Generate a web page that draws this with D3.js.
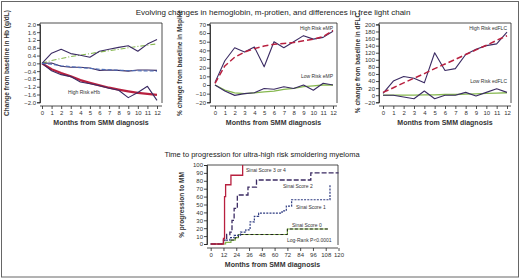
<!DOCTYPE html>
<html>
<head>
<meta charset="utf-8">
<script src="https://cdn.jsdelivr.net/npm/d3@7"></script>
<style>
  body { margin: 0; background: #fff; }
  svg { display: block; font-family: "Liberation Sans", Arial, sans-serif; }
  .narrow { font-family: "Liberation Sans Narrow", "Liberation Sans", Arial, sans-serif; }
</style>
</head>
<body>
<svg id="chart" width="520" height="279"></svg>
<script>
// ---- data ----
const months = [0, 1, 2, 3, 4, 5, 6, 7, 8, 9, 10, 11, 12];

// hemoglobin (g/dL)
const hbRiseObs   = [0, 0.52, 0.72, 0.5, 0.42, 0.31, 0.62, 0.72, 0.82, 0.9, 0.62, 0.99, 1.22];
const hbRiseTrend = [0, 0.15, 0.25, 0.35, 0.42, 0.5, 0.58, 0.65, 0.72, 0.8, 0.87, 0.93, 1.0];
const hbFlatObs   = [0, 0.02, -0.15, -0.2, -0.2, -0.24, -0.36, -0.34, -0.36, -0.4, -0.34, -0.34, -0.36];
const hbFlatTrend = [0, -0.05, -0.12, -0.17, -0.22, -0.26, -0.3, -0.33, -0.35, -0.37, -0.38, -0.39, -0.4];
const hbHighObs   = [0, -0.38, -0.58, -0.68, -0.96, -1.05, -1.15, -1.28, -1.38, -1.76, -1.5, -1.18, -1.9];
const hbHighTrend = [0, -0.3, -0.5, -0.66, -0.86, -1.0, -1.13, -1.25, -1.35, -1.44, -1.52, -1.57, -1.62];

// m-protein (% change)
const mpHighObs   = [3, 28, 43, 38, 44, 21, 50, 43, 50, 57, 53, 55, 62];
const mpHighTrend = [2, 22, 32, 38, 42, 45, 47, 48, 49, 51, 53, 56, 63];
const mpLowObs    = [0, -7, -12, -10, -9, -4, -5, -2, -4, 0, -6, 2, 0];
const mpLowTrend  = [0, -6, -9, -10, -9, -8, -7, -5, -4, -2, -1, 0, 0];

// dFLC (% change)
const flcHighObs   = [5, 40, 53, 48, 35, 120, 70, 75, 115, 130, 140, 145, 178];
const flcHighTrend = [8, 21, 35, 48, 61, 75, 88, 101, 115, 128, 141, 155, 168];
const flcLowObs    = [0, 0, -5, -10, 12, -10, 0, 0, 8, -2, 8, 18, 8];
const flcLowTrend  = [0, 0, 0, 0, 1, 1, 2, 2, 3, 4, 5, 6, 7];

// Kaplan-Meier steps [month, %]
const km34 = [[0,0],[12,0],[12,7],[13,7],[13,60],[14,60],[14,75],[19,75],[19,87],[30,87],[30,100]];
const km2  = [[0,0],[12,0],[12,5],[15,5],[15,12],[18,12],[18,15],[20,15],[20,30],[22,30],[22,45],[25,45],[25,62],[35,62],[35,72],[43,72],[43,81],[94,81],[94,90],[120,90]];
const km1  = [[0,0],[12,0],[12,5],[18,5],[18,8],[22,8],[22,11],[28,11],[28,15],[33,15],[33,18],[37,18],[37,28],[41,28],[41,35],[45,35],[45,39],[67,39],[67,42],[71,42],[71,48],[76,48],[76,56],[112,56],[112,75]];
const km0  = [[0,0],[14,0],[14,2],[19,2],[19,5],[23,5],[23,8],[26,8],[26,12],[72,12],[72,19],[110,19]];

const hbTicks  = [-2.0, -1.6, -1.2, -0.8, -0.4, 0.0, 0.4, 0.8, 1.2, 1.6, 2.0];
const mpTicks  = [-20, -10, 0, 10, 20, 30, 40, 50, 60, 70];
const flcTicks = [-20, 0, 20, 40, 60, 80, 100, 120, 140, 160, 180, 200];
const kmXTicks = [0, 12, 24, 36, 48, 60, 72, 84, 96, 108, 120];
const kmYTicks = [0, 10, 20, 30, 40, 50, 60, 70, 80, 90, 100];

const navy = "#3b2b63", red = "#b8203f", green = "#86b84f", blue = "#4f6fb8";

const svg = d3.select("#chart");

svg.append("rect").attr("x", 1.5).attr("y", 1.5).attr("width", 517).attr("height", 275.5)
  .attr("fill", "none").attr("stroke", "#666").attr("stroke-width", 1);

svg.append("text").attr("x", 273).attr("y", 15).attr("text-anchor", "middle")
  .attr("font-size", 8).attr("fill", "#222")
  .text("Evolving changes in hemoglobin, m-protien, and differences in free light chain");

svg.append("text").attr("x", 262).attr("y", 157).attr("text-anchor", "middle")
  .attr("font-size", 7.5).attr("fill", "#222")
  .text("Time to progression for ultra-high risk smoldering myeloma");

function panel(o) {
  const x = d3.scaleLinear().domain(o.xDomain).range(o.xRange);
  const y = d3.scaleLinear().domain(o.yDomain).range(o.yRange);
  const g = svg.append("g");

  // frame
  g.append("path")
    .attr("d", `M${o.left},${o.bottom}V${o.top}H${o.right}V${o.bottom}`)
    .attr("fill", "none").attr("stroke", "#222").attr("stroke-width", 0.8);

  const ya = g.append("g").attr("transform", `translate(${o.left},0)`)
    .call(d3.axisLeft(y).tickValues(o.yTicks).tickSize(3).tickFormat(o.yFmt));
  const xa = g.append("g").attr("transform", `translate(0,${o.axisY})`)
    .call(d3.axisBottom(x).tickValues(o.xTicks).tickSize(3).tickSizeOuter(0));
  xa.select(".domain").attr("d", `M${o.left},0H${o.right}`);
  [ya, xa].forEach(a => {
    a.select(".domain").attr("stroke", "#222").attr("stroke-width", 0.8);
    a.selectAll(".tick line").attr("stroke", "#222").attr("stroke-width", 0.8);
    a.selectAll(".tick text").attr("font-size", 6).attr("fill", "#333")
      .attr("font-family", "Liberation Sans, Arial, sans-serif");
  });
  ya.selectAll(".tick text").attr("x", -4);
  xa.selectAll(".tick text").attr("y", 5);

  g.append("text").attr("class", "narrow")
    .attr("x", (o.left + o.right) / 2).attr("y", o.axisY + 19)
    .attr("text-anchor", "middle").attr("font-size", 7).attr("font-weight", "bold").attr("fill", "#333")
    .text("Months from SMM diagnosis");
  g.append("text").attr("class", "narrow")
    .attr("transform", `translate(${o.yLabelX},${(o.top + o.bottom) / 2}) rotate(-90)`)
    .attr("text-anchor", "middle").attr("font-size", 6.5).attr("font-weight", "bold").attr("fill", "#333")
    .text(o.yLabel);

  return { g, x, y };
}

function series(p, vals, color, width, dash) {
  const line = d3.line().x((d, i) => p.x(months[i])).y(d => p.y(d));
  p.g.append("path").datum(vals).attr("d", line)
    .attr("fill", "none").attr("stroke", color).attr("stroke-width", width)
    .attr("stroke-dasharray", dash || null).attr("stroke-linejoin", "round");
}

function label(p, xx, yy, txt, anchor) {
  p.g.append("text").attr("x", xx).attr("y", yy).attr("text-anchor", anchor || "start")
    .attr("font-size", 5).attr("fill", "#333").text(txt);
}

// ---- panel 1: hemoglobin ----
const p1 = panel({
  xDomain: [0, 12], xRange: [42, 157], yDomain: [-2, 2], yRange: [102.3, 24.4],
  left: 40, right: 162, top: 23, bottom: 103, axisY: 106,
  xTicks: months, yTicks: hbTicks, yFmt: d3.format(".1f"),
  yLabel: "Change from baseline in Hb (g/dL)", yLabelX: 9
});
series(p1, hbHighTrend, red, 2.2);
series(p1, hbHighObs, navy, 1.1);
series(p1, hbRiseTrend, green, 1.1, "5,2,1,2");
series(p1, hbRiseObs, navy, 1.1);
series(p1, hbFlatObs, navy, 1.1);
series(p1, hbFlatTrend, blue, 1.1, "4,2");
label(p1, 84, 94, "High Risk eHb", "middle");

// ---- panel 2: m-protein ----
const p2 = panel({
  xDomain: [0, 12], xRange: [215, 333], yDomain: [-20, 70], yRange: [102.3, 24.4],
  left: 210, right: 337, top: 23, bottom: 103, axisY: 106,
  xTicks: months, yTicks: mpTicks, yFmt: d3.format("d"),
  yLabel: "% change from baseline in Mspike", yLabelX: 182
});
series(p2, mpLowTrend, green, 1.3);
series(p2, mpLowObs, navy, 1.1);
series(p2, mpHighObs, navy, 1.1);
series(p2, mpHighTrend, red, 1.5, "6,3");
label(p2, 333, 30, "High Risk eMP", "end");
label(p2, 333, 78, "Low Risk eMP", "end");

// ---- panel 3: dFLC ----
const p3 = panel({
  xDomain: [0, 12], xRange: [383, 507], yDomain: [-20, 200], yRange: [102.3, 24.4],
  left: 379, right: 511, top: 23, bottom: 103, axisY: 106,
  xTicks: months, yTicks: flcTicks, yFmt: d3.format("d"),
  yLabel: "% change from baseline in dFLC", yLabelX: 360
});
series(p3, flcLowTrend, green, 1.3);
series(p3, flcLowObs, navy, 1.1);
series(p3, flcHighObs, navy, 1.1);
series(p3, flcHighTrend, red, 1.5, "6,3");
label(p3, 507, 30, "High Risk edFLC", "end");
label(p3, 507, 83, "Low Risk edFLC", "end");

// ---- Kaplan-Meier ----
const pk = panel({
  xDomain: [0, 120], xRange: [210.7, 338.5], yDomain: [0, 100], yRange: [244, 165],
  left: 207, right: 338, top: 165, bottom: 245, axisY: 248,
  xTicks: kmXTicks, yTicks: kmYTicks, yFmt: d3.format("d"),
  yLabel: "% progression to MM", yLabelX: 184
});
function step(p, pts, color, width, dash) {
  const line = d3.line().x(d => p.x(d[0])).y(d => p.y(d[1]));
  p.g.append("path").datum(pts).attr("d", line)
    .attr("fill", "none").attr("stroke", color).attr("stroke-width", width)
    .attr("stroke-dasharray", dash || null);
}
step(pk, km0, green, 1.2);
step(pk, km0.slice(4), "#222", 1, "3,2");
step(pk, km1, "#2d3a80", 1.2, "2,1.2");
step(pk, km2, navy, 1.3, "5,2");
step(pk, km34, red, 1.3);
label(pk, 246, 172, "Sinai Score 3 or 4");
label(pk, 283, 188, "Sinai Score 2");
label(pk, 296, 209, "Sinai Score 1");
label(pk, 292, 227, "Sinai Score 0");
label(pk, 287, 242, "Log-Rank P<0.0001");
</script>
</body>
</html>
